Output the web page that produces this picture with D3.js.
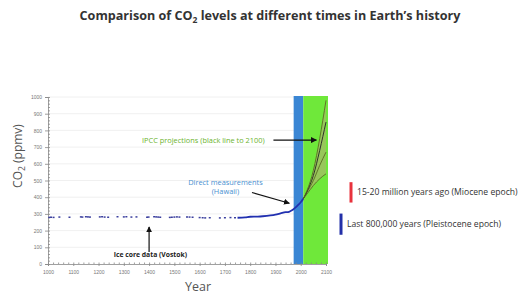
<!DOCTYPE html>
<html>
<head>
<meta charset="utf-8">
<script src="https://cdn.jsdelivr.net/npm/d3@7"></script>
<style>
  body { margin: 0; background: #fff; }
  svg { font-family: "Open Sans", sans-serif; }
  .tick text { fill: #777; }
</style>
</head>
<body>
<svg id="chart" width="521" height="295"></svg>
<script>
// Ice core data (sparse dots)
var iceYears = [1005, 1012, 1022, 1045, 1085, 1130, 1136, 1150, 1158, 1166, 1205, 1214, 1224, 1238, 1275, 1300, 1310, 1330, 1350, 1392, 1398, 1420, 1428, 1436, 1444, 1482, 1490, 1500, 1510, 1520, 1550, 1560, 1572, 1600, 1612, 1622, 1640, 1680, 1700, 1722, 1740];
var iceValues = [279, 280, 279, 281, 280, 282, 281, 283, 282, 281, 282, 283, 281, 280, 283, 282, 283, 281, 282, 280, 281, 283, 282, 281, 280, 279, 280, 281, 282, 281, 282, 281, 280, 278, 277, 276, 277, 276, 277, 278, 277];

// Direct measurements / recent record
var recentYears = [1750, 1780, 1800, 1830, 1850, 1880, 1900, 1920, 1940, 1950, 1960, 1970, 1980, 1990, 2000, 2010];
var recentValues = [277, 279, 283, 284, 286, 291, 296, 303, 310, 311, 317, 326, 339, 354, 370, 390];

// IPCC projections
var projYears = [2010, 2025, 2050, 2075, 2100];
var projLow = [390, 420, 470, 510, 540];
var projMidLow = [390, 430, 500, 590, 670];
var projMidHigh = [390, 435, 530, 680, 850];
var projHigh = [390, 440, 560, 750, 980];

// background periods
var measuredPeriod = [1972, 2010];
var projectedPeriod = [2010, 2100];

// ranges from geologic past
var mioceneRange = [368, 490];
var pleistoceneRange = [175, 302];

var yTicks = [0, 100, 200, 300, 400, 500, 600, 700, 800, 900, 1000];
var xTicks = [1000, 1100, 1200, 1300, 1400, 1500, 1600, 1700, 1800, 1900, 2000, 2100];

var svg = d3.select("#chart");

var x = d3.scaleLinear().domain([1000, 2100]).range([48, 326]);
var y = d3.scaleLinear().domain([0, 1000]).range([264, 97]);

// title
svg.append("text")
    .attr("x", 270).attr("y", 20)
    .attr("text-anchor", "middle")
    .attr("font-size", 12.6).attr("font-weight", 700)
    .attr("fill", "#333")
    .text("Comparison of CO")
  .append("tspan").attr("font-size", 8.5).attr("dy", 3).text("2")
  .select(function() { return this.parentNode; })
  .append("tspan").attr("dy", -3).text(" levels at different times in Earth’s history");

// gridlines
svg.append("g")
  .selectAll("line")
  .data(yTicks.slice(1))
  .enter().append("line")
    .attr("x1", x(1000)).attr("x2", x(2100))
    .attr("y1", y).attr("y2", y)
    .attr("stroke", "#ececec").attr("stroke-width", 0.8);

// periods
svg.append("rect")
    .attr("x", x(measuredPeriod[0])).attr("width", x(measuredPeriod[1]) - x(measuredPeriod[0]))
    .attr("y", y(1000) - 1).attr("height", y(0) - y(1000) + 1)
    .attr("fill", "#3a86d4");
svg.append("rect")
    .attr("x", x(projectedPeriod[0])).attr("width", x(projectedPeriod[1]) - x(projectedPeriod[0]) + 2)
    .attr("y", y(1000) - 1).attr("height", y(0) - y(1000) + 1)
    .attr("fill", "#6fe83a");

// axes
svg.append("g")
    .attr("transform", "translate(" + x(1000) + ",0)")
    .call(d3.axisLeft(y).tickValues(yTicks).tickSize(3).tickPadding(3).tickFormat(d3.format("d")));
svg.append("g")
    .attr("transform", "translate(" + x(1000) + ",0)")
    .call(d3.axisRight(y).ticks(50).tickSize(2).tickFormat(""))
    .select(".domain").remove();
svg.append("g")
    .attr("transform", "translate(0," + y(0) + ")")
    .call(d3.axisBottom(x).tickValues(xTicks).tickSize(2).tickPadding(4).tickFormat(d3.format("d")));
svg.append("g")
    .attr("transform", "translate(0," + y(0) + ")")
    .call(d3.axisTop(x).ticks(55).tickSize(1.5).tickFormat(""))
    .select(".domain").remove();
svg.selectAll(".domain, .tick line").attr("stroke", "#888").attr("stroke-width", 0.8);
svg.selectAll(".tick text").attr("font-size", 5);

// projections fan
var projArea = d3.area()
    .x(function(d, i) { return x(projYears[i]); })
    .y0(function(d, i) { return y(projLow[i]); })
    .y1(function(d, i) { return y(projHigh[i]); })
    .curve(d3.curveMonotoneX);
svg.append("path").datum(projYears)
    .attr("d", projArea)
    .attr("fill", "#a9b86a").attr("opacity", 0.7);

var line = d3.line()
    .x(function(d) { return x(d[0]); })
    .y(function(d) { return y(d[1]); })
    .curve(d3.curveMonotoneX);

[projLow, projMidLow, projMidHigh, projHigh].forEach(function(vals, k) {
  svg.append("path")
      .datum(d3.zip(projYears, vals))
      .attr("d", line)
      .attr("fill", "none")
      .attr("stroke", k == 2 ? "#222" : "#5a6b22")
      .attr("stroke-width", 0.9);
});

// ice core dots
svg.append("g")
  .selectAll("line")
  .data(d3.zip(iceYears, iceValues))
  .enter().append("line")
    .attr("x1", function(d) { return x(d[0]) - 1; })
    .attr("x2", function(d) { return x(d[0]) + 1; })
    .attr("y1", function(d) { return y(d[1]); })
    .attr("y2", function(d) { return y(d[1]); })
    .attr("stroke", "#3b3f9e").attr("stroke-width", 1.5);

// recent record
svg.append("path")
    .datum(d3.zip(recentYears, recentValues))
    .attr("d", line)
    .attr("fill", "none")
    .attr("stroke", "#2130b0")
    .attr("stroke-width", 1.8);

// arrows
var defs = svg.append("defs");
defs.append("marker")
    .attr("id", "head")
    .attr("viewBox", "0 0 10 10")
    .attr("refX", 9).attr("refY", 5)
    .attr("markerWidth", 5).attr("markerHeight", 5)
    .attr("orient", "auto")
  .append("path").attr("d", "M0,0L10,5L0,10z").attr("fill", "#111");

function arrow(a, b) {
  svg.append("line")
      .attr("x1", x(a[0])).attr("y1", y(a[1]))
      .attr("x2", x(b[0])).attr("y2", y(b[1]))
      .attr("stroke", "#111").attr("stroke-width", 1.2)
      .attr("marker-end", "url(#head)");
}
arrow([1892, 742], [2062, 742]);
arrow([1807, 428], [1955, 364]);
arrow([1400, 72], [1400, 222]);

// annotation texts
svg.append("text")
    .attr("x", x(1372)).attr("y", y(742) + 2.5)
    .attr("font-size", 7.4).attr("fill", "#6cb32e")
    .text("IPCC projections (black line to 2100)");
svg.append("text")
    .attr("x", x(1702)).attr("y", y(487) + 2.5)
    .attr("text-anchor", "middle")
    .attr("font-size", 7.4).attr("fill", "#4a90d0")
    .text("Direct measurements");
svg.append("text")
    .attr("x", x(1702)).attr("y", y(436) + 2.5)
    .attr("text-anchor", "middle")
    .attr("font-size", 7.4).attr("fill", "#4a90d0")
    .text("(Hawaii)");
svg.append("text")
    .attr("x", x(1405)).attr("y", y(58) + 2.5)
    .attr("text-anchor", "middle")
    .attr("font-size", 6.8).attr("font-weight", 700).attr("fill", "#222")
    .text("Ice core data (Vostok)");

// range bars legend
var bars = [
  {range: mioceneRange, color: "#e8323c", label: "15-20 million years ago (Miocene epoch)", x: 351},
  {range: pleistoceneRange, color: "#2330a8", label: "Last 800,000 years (Pleistocene epoch)", x: 341}
];
bars.forEach(function(b) {
  svg.append("line")
      .attr("x1", b.x).attr("x2", b.x)
      .attr("y1", y(b.range[0])).attr("y2", y(b.range[1]))
      .attr("stroke", b.color).attr("stroke-width", 3);
  svg.append("text")
      .attr("x", b.x + 6).attr("y", (y(b.range[0]) + y(b.range[1])) / 2 + 3)
      .attr("font-size", 8.6).attr("fill", "#333")
      .text(b.label);
});

// axis titles
svg.append("text")
    .attr("transform", "translate(22,156) rotate(-90)")
    .attr("text-anchor", "middle")
    .attr("font-size", 12).attr("fill", "#555")
    .text("CO")
  .append("tspan").attr("font-size", 8.5).attr("dy", 3).text("2")
  .select(function() { return this.parentNode; })
  .append("tspan").attr("dy", -3).text(" (ppmv)");
svg.append("text")
    .attr("x", 198).attr("y", 291)
    .attr("text-anchor", "middle")
    .attr("font-size", 12.5).attr("fill", "#555")
    .text("Year");
</script>
</body>
</html>
